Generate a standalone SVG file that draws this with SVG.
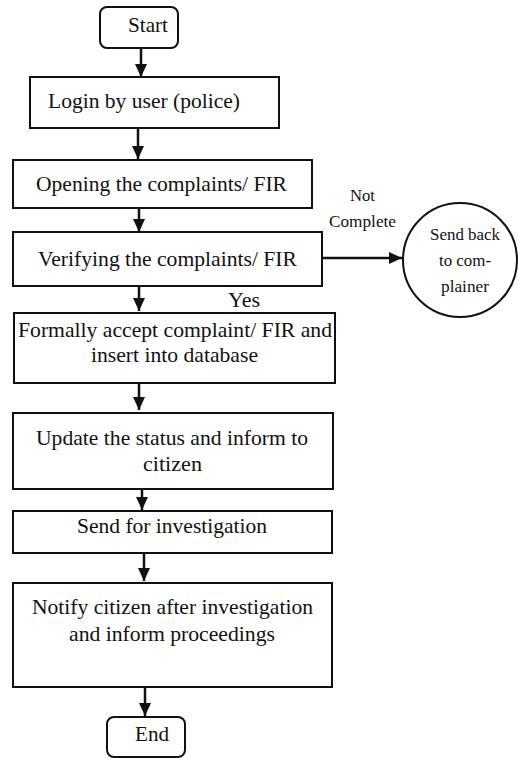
<svg xmlns="http://www.w3.org/2000/svg" width="518" height="758" viewBox="0 0 518 758">
<defs>
<marker id="ah" markerUnits="userSpaceOnUse" markerWidth="14" markerHeight="14" viewBox="0 0 14 14" refX="13" refY="7" orient="auto">
<path d="M0,1 L13,7 L0,13 Z" fill="#111"/>
</marker>
<style>
.box{fill:#fff;stroke:#111;stroke-width:2}
.t{font-family:"Liberation Serif",Tinos,"Times New Roman",Times,"DejaVu Serif","Noto Serif",serif;font-size:21.5px;fill:#111}
.s{font-family:"Liberation Serif",Tinos,"Times New Roman",Times,"DejaVu Serif","Noto Serif",serif;font-size:17px;fill:#111}
.c{text-anchor:middle}
.ln{stroke:#111;stroke-width:2.5;fill:none;marker-end:url(#ah)}
</style>
</defs>
<rect width="518" height="758" fill="#fff"/>
<g id="connectors">
<line class="ln" x1="141" y1="48" x2="141" y2="77"/>
<line class="ln" x1="138" y1="128" x2="138" y2="159"/>
<line class="ln" x1="139" y1="208" x2="139" y2="232"/>
<line class="ln" x1="322" y1="258" x2="402" y2="258"/>
<line class="ln" x1="139" y1="286" x2="139" y2="311"/>
<line class="ln" x1="139" y1="383" x2="139" y2="410"/>
<line class="ln" x1="142" y1="489" x2="142" y2="510"/>
<line class="ln" x1="144" y1="553" x2="144" y2="581"/>
<line class="ln" x1="145" y1="687" x2="145" y2="716"/>
<text class="s" x="350" y="201" textLength="25" lengthAdjust="spacingAndGlyphs">Not</text>
<text class="s" x="329" y="227" textLength="67" lengthAdjust="spacingAndGlyphs">Complete</text>
<text class="t" x="228" y="307" textLength="32" lengthAdjust="spacingAndGlyphs">Yes</text>
</g>
<g id="start">
<rect class="box" x="100" y="7" width="78" height="41" rx="7"/>
<text class="t" x="128" y="32" textLength="40" lengthAdjust="spacingAndGlyphs">Start</text>
</g>
<g id="login">
<rect class="box" x="30" y="77" width="249" height="51"/>
<text class="t" x="48" y="108" textLength="192" lengthAdjust="spacingAndGlyphs">Login by user (police)</text>
</g>
<g id="opening">
<rect class="box" x="13" y="160" width="299" height="48"/>
<text class="t c" x="161.5" y="191" textLength="251" lengthAdjust="spacingAndGlyphs">Opening the complaints/ FIR</text>
</g>
<g id="verifying">
<rect class="box" x="13" y="232" width="309" height="54"/>
<text class="t c" x="167.5" y="266" textLength="259" lengthAdjust="spacingAndGlyphs">Verifying the complaints/ FIR</text>
</g>
<g id="sendback">
<circle cx="460" cy="260" r="57" fill="#fff" stroke="#111" stroke-width="2"/>
<text class="s c" x="465" y="240" textLength="70" lengthAdjust="spacingAndGlyphs">Send back</text>
<text class="s c" x="465" y="266" textLength="52" lengthAdjust="spacingAndGlyphs">to com-</text>
<text class="s c" x="465" y="292" textLength="48" lengthAdjust="spacingAndGlyphs">plainer</text>
</g>
<g id="accept">
<rect class="box" x="14" y="313" width="321" height="70"/>
<text class="t c" x="175" y="337" textLength="314" lengthAdjust="spacingAndGlyphs">Formally accept complaint/ FIR and</text>
<text class="t c" x="174.5" y="362" textLength="167" lengthAdjust="spacingAndGlyphs">insert into database</text>
</g>
<g id="update">
<rect class="box" x="13" y="413" width="320" height="76"/>
<text class="t c" x="172" y="445" textLength="272" lengthAdjust="spacingAndGlyphs">Update the status and inform to</text>
<text class="t c" x="172.5" y="471" textLength="59" lengthAdjust="spacingAndGlyphs">citizen</text>
</g>
<g id="investigate">
<rect class="box" x="13" y="511" width="319" height="42"/>
<text class="t c" x="172" y="533" textLength="190" lengthAdjust="spacingAndGlyphs">Send for investigation</text>
</g>
<g id="notify">
<rect class="box" x="13" y="583" width="319" height="104"/>
<text class="t c" x="172.5" y="614" textLength="281" lengthAdjust="spacingAndGlyphs">Notify citizen after investigation</text>
<text class="t c" x="172" y="641" textLength="206" lengthAdjust="spacingAndGlyphs">and inform proceedings</text>
</g>
<g id="end">
<rect class="box" x="107" y="717" width="78" height="40" rx="7"/>
<text class="t" x="135" y="741" textLength="34" lengthAdjust="spacingAndGlyphs">End</text>
</g>
</svg>
